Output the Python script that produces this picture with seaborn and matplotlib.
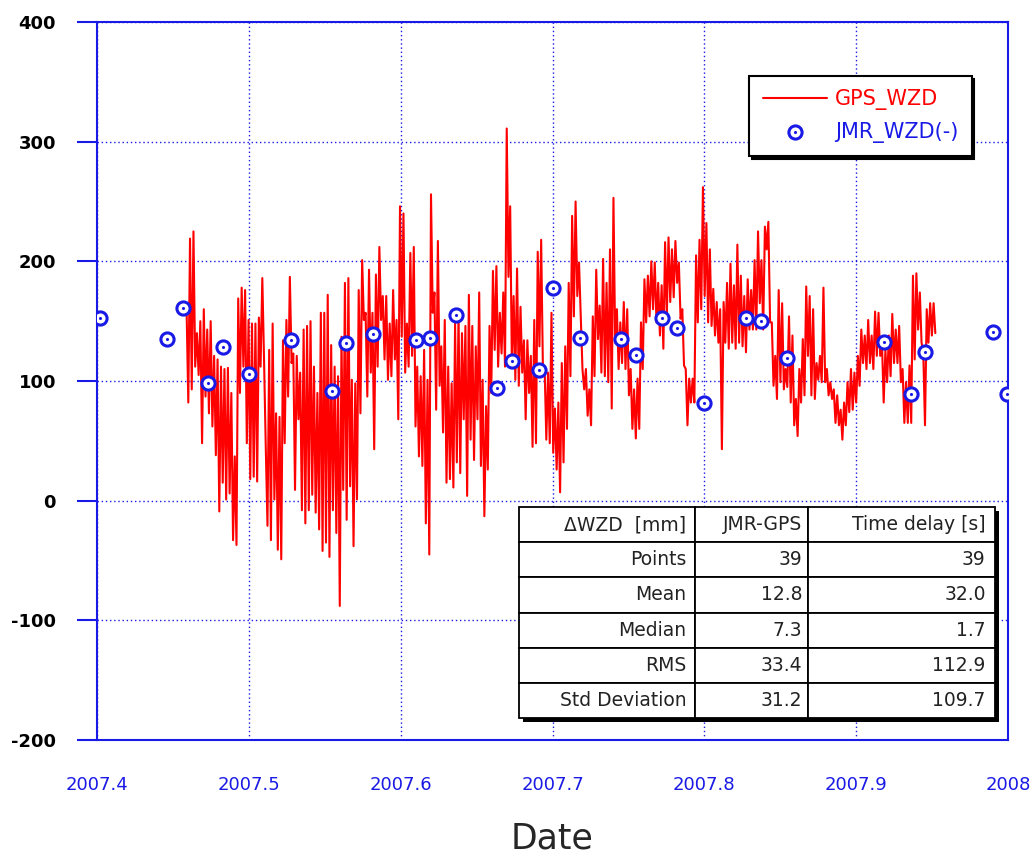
import numpy as np
import pandas as pd
import matplotlib
matplotlib.use("Agg")
import matplotlib.pyplot as plt
import matplotlib.transforms as mtransforms
from matplotlib.patches import Rectangle
import seaborn as sns

# ---------------- data ----------------
# GPS WZD: envelope (high, low) read at evenly spaced times
gps_start = 2007.459
gps_end = 2007.951
gps_high = [160, 219, 225, 140, 150, 160, 143, 150, 121, 118, 112, 110, 111, 90, 37, 169, 178, 176, 151, 148,
            148, 153, 186, 45, 126, 148, 73, 70, 134, 151, 187, 123, 121, 107, 143, 146, 150, 112, 90, 157,
            157, 172, 130, 112, 104, 137, 182, 186, 101, 98, 176, 201, 157, 193, 157, 189, 212, 171, 171, 148,
            176, 151, 246, 240, 148, 207, 212, 112, 104, 126, 101, 256, 174, 217, 129, 151, 112, 98, 148, 157,
            140, 146, 172, 146, 129, 174, 101, 79, 146, 192, 196, 157, 174, 311, 246, 171, 194, 162, 134, 134,
            121, 151, 208, 218, 112, 107, 157, 77, 82, 115, 129, 182, 238, 250, 199, 110, 110, 93, 154, 193,
            163, 202, 182, 210, 253, 160, 149, 166, 160, 110, 93, 102, 149, 185, 188, 200, 199, 182, 180, 216,
            220, 210, 217, 199, 160, 110, 102, 102, 205, 218, 262, 232, 210, 177, 166, 160, 166, 182, 198, 180,
            214, 188, 171, 185, 176, 201, 225, 201, 229, 233, 149, 121, 176, 165, 110, 154, 138, 85, 110, 135,
            179, 171, 160, 115, 121, 178, 110, 99, 93, 88, 76, 82, 99, 110, 107, 121, 143, 138, 151, 138,
            158, 157, 132, 126, 138, 156, 143, 146, 110, 99, 113, 188, 190, 174, 124, 160, 165, 165]
gps_low = [82, 93, 112, 105, 48, 87, 73, 62, 38, -9, 15, 1, 6, -33, -37, 90, 112, 48, 18, 20,
           16, 112, 118, -21, -33, 1, -41, -49, 48, 87, 115, 9, 68, -8, -19, -8, 5, -10, -24, -42,
           -35, -47, -8, -27, -88, 9, -16, 12, -38, 1, 73, 151, 87, 107, 43, 112, 151, 118, 101, 104,
           118, 68, 137, 107, 112, 121, 62, 37, 29, -19, -45, 157, 76, 96, 57, 15, 18, 11, 32, 23,
           68, 4, 51, 34, 68, 29, -13, 26, 90, 126, 112, 123, 112, 187, 112, 101, 96, 107, 68, 90,
           45, 48, 129, 112, 51, 48, 40, 26, 7, 32, 60, 104, 154, 171, 154, 93, 71, 63, 104, 135,
           107, 104, 99, 77, 132, 110, 115, 110, 88, 60, 52, 60, 110, 149, 154, 160, 149, 138, 127, 154,
           166, 170, 182, 152, 113, 63, 82, 82, 149, 160, 171, 149, 146, 138, 132, 43, 132, 127, 132, 127,
           132, 129, 124, 143, 143, 143, 165, 143, 210, 149, 96, 85, 99, 93, 95, 82, 63, 54, 82, 88,
           121, 88, 85, 101, 99, 99, 88, 85, 65, 63, 51, 63, 74, 76, 82, 96, 115, 110, 115, 110,
           121, 121, 82, 99, 104, 115, 115, 99, 65, 65, 65, 118, 143, 132, 63, 132, 138, 140]

# JMR WZD points
jmr_date = [2007.402, 2007.446, 2007.4565, 2007.4733, 2007.4828, 2007.5001, 2007.5276, 2007.5546,
            2007.564, 2007.582, 2007.610, 2007.6194, 2007.6367, 2007.6635, 2007.6736, 2007.691,
            2007.7006, 2007.7182, 2007.745, 2007.7551, 2007.7722, 2007.7819, 2007.7999, 2007.8273,
            2007.8374, 2007.8543, 2007.9184, 2007.9358, 2007.9455, 2007.9899, 2007.9995]
jmr_wzd = [153, 135, 161, 98, 128, 106, 134, 92, 132, 139, 134, 136, 155, 94, 117, 109,
           178, 136, 135, 122, 153, 144, 82, 153, 150, 119, 133, 89, 124, 141, 89]

x_ticks = [2007.4, 2007.5, 2007.6, 2007.7, 2007.8, 2007.9, 2008.0]
x_tick_labels = ["2007.4", "2007.5", "2007.6", "2007.7", "2007.8", "2007.9", "2008"]
y_ticks = [-200, -100, 0, 100, 200, 300, 400]
y_tick_labels = ["-200", "-100", "0", "100", "200", "300", "400"]

table_header = ["\u0394WZD  [mm]", "JMR-GPS", "Time delay [s]"]
table_rows = ["Points", "Mean", "Median", "RMS", "Std Deviation"]
table_jmr_gps = ["39", "12.8", "7.3", "33.4", "31.2"]
table_delay = ["39", "32.0", "1.7", "112.9", "109.7"]

# ---------------- build frames ----------------
n = len(gps_high)
t_high = np.linspace(gps_start, gps_end, n)
half = (t_high[1] - t_high[0]) / 2.0
t = np.empty(2 * n)
v = np.empty(2 * n)
t[0::2] = t_high
t[1::2] = t_high + half
v[0::2] = gps_high
v[1::2] = gps_low
gps_df = pd.DataFrame({"date": t, "wzd": v})
jmr_df = pd.DataFrame({"date": jmr_date, "wzd": jmr_wzd})

# ---------------- figure ----------------
sns.set_style("white")
plt.rcParams['font.family'] = ['DejaVu Sans']
plt.rcParams['axes.unicode_minus'] = False
BLUE = "#1a1ae6"

fig = plt.figure(figsize=(10.34, 8.59), dpi=100)
ax = fig.add_axes([97 / 1034, 1 - 740 / 859, 911 / 1034, 718 / 859])

sns.lineplot(data=gps_df, x="date", y="wzd", ax=ax, color="red", lw=1.5,
             sort=False, estimator=None, label="GPS_WZD", zorder=3, legend=False)
sns.scatterplot(data=jmr_df, x="date", y="wzd", ax=ax, s=90, marker="o",
                facecolor="white", edgecolor=BLUE, linewidth=2.2, zorder=4, legend=False)
sns.scatterplot(data=jmr_df, x="date", y="wzd", ax=ax, s=5, marker="o",
                color=BLUE, linewidth=0, zorder=5, legend=False)

ax.set_xlim(2007.4, 2008.0)
ax.set_ylim(-200, 400)
ax.set_xticks(x_ticks)
ax.set_xticklabels(x_tick_labels)
ax.set_yticks(y_ticks)
ax.set_yticklabels(y_tick_labels)
ax.grid(True, color=BLUE, linestyle=(0, (1, 2)), linewidth=1.0)
for s in ax.spines.values():
    s.set_color(BLUE)
    s.set_linewidth(1.5)
ax.tick_params(axis="y", left=True, direction="out", length=14.5, width=1.5, color=BLUE,
               labelsize=13, pad=15, labelcolor="black")
for lab in ax.get_yticklabels():
    lab.set_fontweight("bold")
ax.tick_params(axis="x", bottom=False, length=0, labelsize=13, pad=26, labelcolor=BLUE)
ax.set_xlabel("Date", fontsize=25, labelpad=20)
ax.set_ylabel("")

# legend
line_h = ax.lines[0]
circ = ax.collections[0]
dot = ax.collections[1]
leg = ax.legend([line_h, (circ, dot)], ["GPS_WZD", "JMR_WZD(-)"],
                loc="upper right", bbox_to_anchor=(0.960, 0.925), fontsize=15,
                labelcolor=["red", BLUE], frameon=True, fancybox=False,
                shadow={"color": "black", "alpha": 1}, edgecolor="black",
                handlelength=3.1, borderpad=0.65, labelspacing=0.55, handletextpad=0.35,
                borderaxespad=0)
leg.get_frame().set_linewidth(1.5)

# table
x0, y0, w, h = (519 - 97) / 911, (740 - 718) / 718, 476 / 911, 211 / 718
cell_text = [table_header] + [[r, a, b] for r, a, b in zip(table_rows, table_jmr_gps, table_delay)]
cw = np.array([176, 113, 187], dtype=float)
cw = cw / cw.sum()
shadow = Rectangle((x0, y0), w, h,
                   transform=ax.transAxes + mtransforms.ScaledTranslation(4 / 100, -4 / 100, fig.dpi_scale_trans),
                   facecolor="black", edgecolor="none", zorder=9)
ax.add_patch(shadow)
tab = ax.table(cellText=cell_text, cellLoc="right", colWidths=list(cw),
               bbox=[x0, y0, w, h], zorder=10)
tab.auto_set_font_size(False)
for (r, c), cell in tab.get_celld().items():
    cell.set_facecolor("white")
    cell.set_edgecolor("black")
    cell.set_linewidth(1.3)
    cell.get_text().set_fontsize(13.5)
    cell.get_text().set_color("#222222")
    cell.PAD = 0.05

fig.savefig("out.png", dpi=100)
